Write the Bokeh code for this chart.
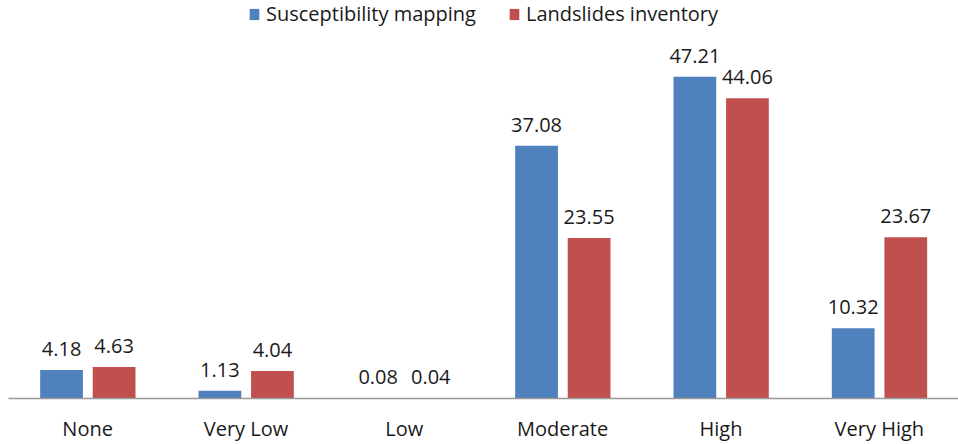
from bokeh.plotting import figure
from bokeh.models import ColumnDataSource, Legend, LegendItem, LabelSet
from bokeh.core.properties import value
from bokeh.transform import dodge
from bokeh.embed import file_html
from bokeh.resources import INLINE

categories = ["None", "Very Low", "Low", "Moderate", "High", "Very High"]
susceptibility = [4.18, 1.13, 0.08, 37.08, 47.21, 10.32]
inventory = [4.63, 4.04, 0.04, 23.55, 44.06, 23.67]
series_names = ["Susceptibility mapping", "Landslides inventory"]
colors = ["#4F81BD", "#C0504D"]

src = ColumnDataSource(dict(
    cat=categories,
    s=susceptibility,
    i=inventory,
    s_lbl=[f"{v:.2f}" for v in susceptibility],
    i_lbl=[f"{v:.2f}" for v in inventory],
))

p = figure(x_range=categories, y_range=(0, 58.4), width=958, height=444,
           output_backend="svg", toolbar_location=None, y_axis_location=None,
           min_border_left=8, min_border_right=0, min_border_top=0, min_border_bottom=0,
           outline_line_color=None)

font = "Open Sans"
r1 = p.vbar(x=dodge("cat", -0.165, range=p.x_range), top="s", width=0.27, source=src,
            fill_color=colors[0], line_color=None)
r2 = p.vbar(x=dodge("cat", 0.167, range=p.x_range), top="i", width=0.27, source=src,
            fill_color=colors[1], line_color=None)

for col, off in (("s", -0.165), ("i", 0.167)):
    lab = LabelSet(x=dodge("cat", off, range=p.x_range), y=col, text=col + "_lbl", source=src,
                   text_align="center", text_baseline="alphabetic", y_offset=14,
                   text_font=value(font), text_font_size="20px", text_color="#1a1a1a")
    p.add_layout(lab)

legend = Legend(items=[LegendItem(label=series_names[0], renderers=[r1]),
                       LegendItem(label=series_names[1], renderers=[r2])],
                location="top_center", orientation="horizontal",
                border_line_color=None, background_fill_alpha=0,
                label_text_font=font, label_text_font_size="20px", label_text_color="#1a1a1a",
                glyph_width=12, glyph_height=14, spacing=32, padding=6, margin=0,
                label_standoff=6)
p.add_layout(legend)

p.xgrid.visible = False
p.ygrid.visible = False
p.xaxis.axis_line_color = "#999999"
p.xaxis.axis_line_width = 1.5
p.xaxis.major_tick_line_color = None
p.xaxis.minor_tick_line_color = None
p.xaxis.major_label_text_font = font
p.xaxis.major_label_text_font_size = "20px"
p.xaxis.major_label_text_color = "#1a1a1a"
p.xaxis.major_label_standoff = 10
p.x_range.range_padding = 0

open("out.html", "w").write(file_html(p, INLINE))
